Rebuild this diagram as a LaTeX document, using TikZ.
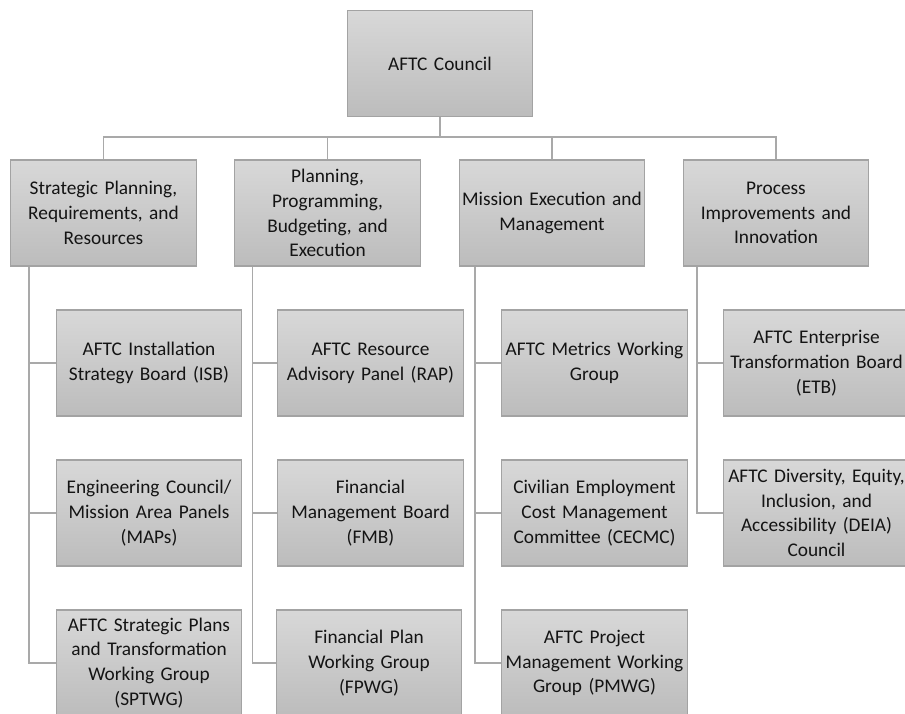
\documentclass[tikz,border=0pt]{standalone}
\usepackage{fontspec}
\setmainfont{Carlito}
\usepackage{tikz}
\usetikzlibrary{positioning,calc}
\definecolor{boxtop}{HTML}{D8D8D8}
\definecolor{boxbot}{HTML}{BCBCBC}
\definecolor{boxline}{HTML}{A3A3A3}
\definecolor{linkgray}{HTML}{A9A9A9}
\definecolor{textgray}{HTML}{141414}
\tikzset{
  unit/.style={draw=boxline, line width=0.8pt, top color=boxtop, bottom color=boxbot,
    minimum width=139pt, minimum height=79.5pt, text width=137pt, inner sep=1pt,
    align=center, text=textgray, font=\fontsize{14.5}{18.6}\selectfont},
  link/.style={draw=linkgray, line width=1.2pt}
}

\begin{document}
\begin{tikzpicture}[x=0.75pt, y=-0.75pt]
    \clip (0,0) rectangle (905,713);
    \useasboundingbox (0,0) rectangle (905,713);

    % Conselho
    \node[unit] (council) at (440,63.5) {AFTC Council};

    % Areas
    \node[unit] (spr)  at (103.5,213) {Strategic Planning,\\Requirements, and\\Resources};
    \node[unit] (ppbe) at (327.5,213) {Planning,\\Programming,\\Budgeting, and\\Execution};
    \node[unit] (mem)  at (552,213)   {Mission Execution and\\Management};
    \node[unit] (pii)  at (776,213)   {Process\\Improvements and\\Innovation};

    % Grupos
    \node[unit] (isb)   at (149,363)   {AFTC Installation\\Strategy Board (ISB)};
    \node[unit] (maps)  at (149,513)   {Engineering Council/\\Mission Area Panels\\(MAPs)};
    \node[unit] (sptwg) at (149,663)   {AFTC Strategic Plans\\and Transformation\\Working Group\\(SPTWG)};
    \node[unit] (rap)   at (370.5,363) {AFTC Resource\\Advisory Panel (RAP)};
    \node[unit] (fmb)   at (370.5,513) {Financial\\Management Board\\(FMB)};
    \node[unit] (fpwg)  at (369,663)   {Financial Plan\\Working Group\\(FPWG)};
    \node[unit] (metr)  at (594.5,363) {AFTC Metrics Working\\Group};
    \node[unit] (cecmc) at (594.5,513) {Civilian Employment\\Cost Management\\Committee (CECMC)};
    \node[unit] (pmwg)  at (594.5,663) {AFTC Project\\Management Working\\Group (PMWG)};
    \node[unit] (etb)   at (816.5,363) {AFTC Enterprise\\Transformation Board\\(ETB)};
    \node[unit] (deia)  at (816.5,513) {AFTC Diversity, Equity,\\Inclusion, and\\Accessibility (DEIA)\\Council};

    % Ligacoes
    \coordinate (bus) at (440,137);
    \draw[link] (council) -- (bus);
    \draw[link] (bus) -| (spr);
    \draw[link] (bus) -| (ppbe);
    \draw[link] (bus) -| (mem);
    \draw[link] (bus) -| (pii);

    \coordinate (t1) at ([xshift=14pt]spr.south west);
    \coordinate (t2) at ([xshift=13.5pt]ppbe.south west);
    \coordinate (t3) at ([xshift=12pt]mem.south west);
    \coordinate (t4) at ([xshift=10.5pt]pii.south west);
    \draw[link] (t1) |- (isb);
    \draw[link] (t1) |- (maps);
    \draw[link] (t1) |- (sptwg);
    \draw[link] (t2) |- (rap);
    \draw[link] (t2) |- (fmb);
    \draw[link] (t2) |- (fpwg);
    \draw[link] (t3) |- (metr);
    \draw[link] (t3) |- (cecmc);
    \draw[link] (t3) |- (pmwg);
    \draw[link] (t4) |- (etb);
    \draw[link] (t4) |- (deia);
\end{tikzpicture}
\end{document}
